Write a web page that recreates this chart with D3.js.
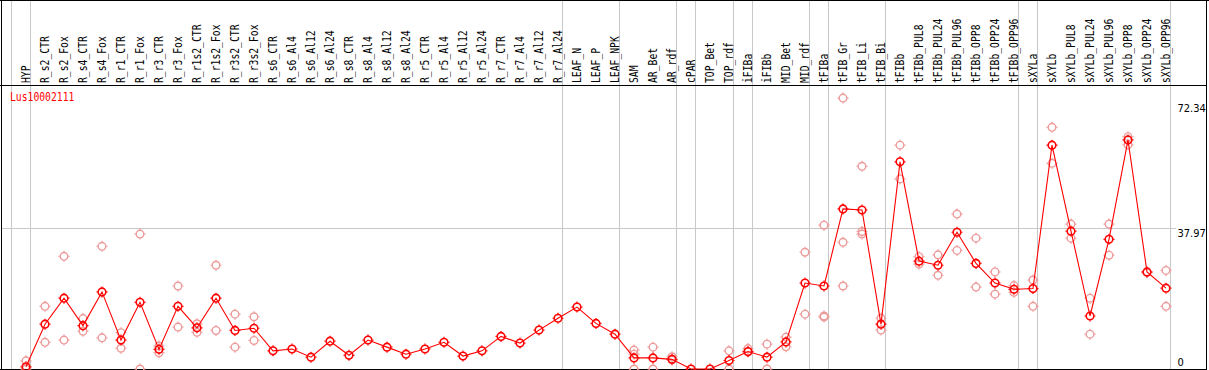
<!DOCTYPE html>
<html>
<head>
<meta charset="utf-8">
<script src="https://cdn.jsdelivr.net/npm/d3@7"></script>
<style>
html, body { margin:0; padding:0; background:#fff; }
svg { display:block; }
text { font-family: "DejaVu Sans Mono", "Liberation Mono", monospace; }
text.tick { font-family: "DejaVu Sans Condensed", "DejaVu Sans", sans-serif; }
</style>
</head>
<body>
<div id="chart"></div>
<script>
//DATA
const title = "Lus10002111";

const samples = ["HYP","R_s2_CTR","R_s2_Fox","R_s4_CTR","R_s4_Fox","R_r1_CTR","R_r1_Fox","R_r3_CTR","R_r3_Fox",
  "R_r1s2_CTR","R_r1s2_Fox","R_r3s2_CTR","R_r3s2_Fox","R_s6_CTR","R_s6_Al4","R_s6_Al12","R_s6_Al24",
  "R_s8_CTR","R_s8_Al4","R_s8_Al12","R_s8_Al24","R_r5_CTR","R_r5_Al4","R_r5_Al12","R_r5_Al24",
  "R_r7_CTR","R_r7_Al4","R_r7_Al12","R_r7_Al24","LEAF_N","LEAF_P","LEAF_NPK","SAM","AR_Bet","AR_rdf",
  "cPAR","TOP_Bet","TOP_rdf","iFIBa","iFIBb","MID_Bet","MID_rdf","tFIBa","tFIB_Gr","tFIB_Li","tFIB_Bi",
  "tFIBb","tFIBb_PUL8","tFIBb_PUL24","tFIBb_PUL96","tFIBb_OPP8","tFIBb_OPP24","tFIBb_OPP96",
  "sXYLa","sXYLb","sXYLb_PUL8","sXYLb_PUL24","sXYLb_PUL96","sXYLb_OPP8","sXYLb_OPP24","sXYLb_OPP96"];

const means = [0.6,12.1,19.1,11.7,20.8,7.8,18.0,5.3,16.9,
  11.1,19.1,10.4,11.0,4.9,5.4,3.2,7.5,
  3.7,7.8,5.9,4.0,5.4,7.2,3.5,4.9,
  8.8,7.0,10.5,13.7,16.7,12.3,9.4,3.0,3.0,2.6,
  0,0,2.3,4.7,3.2,7.3,23.2,22.4,43.2,42.9,12.1,
  55.9,29.1,28.0,36.9,28.5,23.2,21.5,
  21.7,60.4,37.2,14.3,35.0,61.8,26.2,21.8];

const replicates = [[2.2,0],[16.9,7.2],[30.4,7.8],[13.6,10.2],[33.1,8.4],[9.8,5.6],[36.4,0],[6.2,4.4],[22.4,11.3],
  [12.2,9.9],[28.0,10.4],[14.8,5.9],[14.1,7.7],[],[],[],[],
  [],[],[],[],[],[],[],[],
  [],[],[],[],[],[],[],[5.1,4.0,0],[5.9,0],[3.3,2.4],
  [],[],[4.9,0],[5.5,4.6],[6.7,0],[8.6,6.0],[31.5,14.8],[38.8,14.3,14.0],[73.1,34.2,22.4],[54.7,37.1,36.4],[13.7,10.5],
  [60.4,51.3],[30.3,28.3],[30.8,25.3],[41.8,32.0],[35.3,22.1],[26.2,20.2],[22.5,20.7],
  [24.0,16.9],[65.2,55.5],[39.1,35.3],[19.1,9.4],[39.1,30.7],[62.7,60.5],[26.0],[26.6,16.9]];

//last sample of each group (a separator follows it)
const groupEnds = ["HYP","R_r7_Al24","LEAF_NPK","AR_rdf","cPAR","TOP_rdf","iFIBa","MID_rdf","tFIBa","tFIB_Bi","tFIBb_OPP96","sXYLa","sXYLb_OPP96"];

const yTicks = [0, 37.97, 72.34];

//LAYOUT
const W = 1209, H = 370;
const plotTop = 85, plotBottom = 369;

const svg = d3.select("#chart").append("svg").attr("width", W).attr("height", H);

const x = d3.scalePoint().domain(samples).range([26, 26 + 19 * (samples.length - 1)]);
const y = d3.scaleLinear().domain([0, 72.34]).range([plotBottom, 100.9]);

//grid lines
const grid = svg.append("g").attr("stroke", "#c8c8c8").attr("stroke-width", 1);
grid.append("line").attr("x1", x(samples[0]) - 14.5).attr("x2", x(samples[0]) - 14.5).attr("y1", 0).attr("y2", plotBottom);
grid.selectAll("line.sep").data(groupEnds).join("line").attr("class", "sep")
  .attr("x1", d => x(d) + 4.5).attr("x2", d => x(d) + 4.5)
  .attr("y1", 0).attr("y2", plotBottom);
grid.selectAll("line.h").data(yTicks.slice(1, -1)).join("line").attr("class", "h")
  .attr("x1", 1).attr("x2", 1176)
  .attr("y1", d => Math.round(y(d)) + 0.5).attr("y2", d => Math.round(y(d)) + 0.5);

//frame
const frame = svg.append("g").attr("stroke", "#000").attr("stroke-width", 1).attr("fill", "none");
frame.append("line").attr("x1", 0).attr("x2", W).attr("y1", 0.5).attr("y2", 0.5);
frame.append("line").attr("x1", 0).attr("x2", 1206).attr("y1", plotTop + 0.5).attr("y2", plotTop + 0.5);
frame.append("line").attr("x1", 0).attr("x2", 1206).attr("y1", plotBottom + 0.5).attr("y2", plotBottom + 0.5);
frame.append("line").attr("x1", 1.5).attr("x2", 1.5).attr("y1", 0).attr("y2", H);
frame.append("line").attr("x1", 1206.5).attr("x2", 1206.5).attr("y1", 0).attr("y2", H);

//sample labels
svg.append("g").selectAll("text").data(samples).join("text")
  .attr("transform", d => `translate(${x(d) + 4},83) rotate(-90)`)
  .attr("font-size", 12)
  .attr("textLength", d => d.length * 5.85)
  .attr("lengthAdjust", "spacingAndGlyphs")
  .attr("fill", "#000")
  .text(d => d);

//title
svg.append("text").attr("x", 10).attr("y", 101)
  .attr("font-size", 12).attr("fill", "#f00")
  .attr("textLength", title.length * 5.85).attr("lengthAdjust", "spacingAndGlyphs")
  .text(title);

//right axis labels
const tickBase = {0: 366, 37.97: 237, 72.34: 111.5};
svg.append("g").selectAll("text").data(yTicks).join("text")
  .attr("class", "tick")
  .attr("x", 1177.5)
  .attr("y", d => tickBase[d])
  .attr("font-size", 11)
  .attr("fill", "#000")
  .text(d => String(d));

//marker: hollow circle with small ticks
function marker(g, color, sw){
  g.append("circle").attr("r", 3.8).attr("fill", "none").attr("stroke", color).attr("stroke-width", sw);
  g.append("path").attr("d", "M0,-5.5V-4.2M0,4.2V5.5M-5.5,0H-4.2M4.2,0H5.5")
    .attr("stroke", color).attr("stroke-width", 1.2);
}

//replicates
const repData = [];
samples.forEach((s, i) => replicates[i].forEach(v => repData.push({s, v})));
svg.append("g").selectAll("g").data(repData).join("g")
  .attr("transform", d => `translate(${x(d.s)},${y(d.v)})`)
  .each(function(){ marker(d3.select(this), "#ee9a9a", 1.4); });

//mean line
const line = d3.line().x((d, i) => x(samples[i])).y(d => y(d));
svg.append("path").datum(means).attr("d", line)
  .attr("fill", "none").attr("stroke", "#f00").attr("stroke-width", 1.1);

//means
svg.append("g").selectAll("g").data(means).join("g")
  .attr("transform", (d, i) => `translate(${x(samples[i])},${y(d)})`)
  .each(function(){ marker(d3.select(this), "#f00", 1.6); });
</script>
</body>
</html>
